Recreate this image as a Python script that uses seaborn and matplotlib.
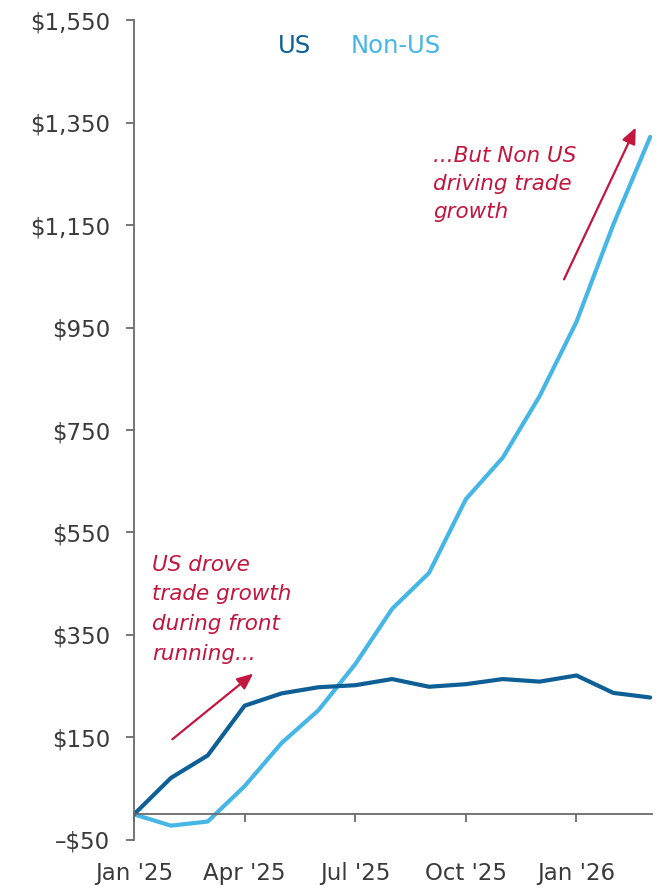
import numpy as np
import pandas as pd
import matplotlib
matplotlib.use("Agg")
import matplotlib.pyplot as plt
import seaborn as sns

# Monthly cumulative trade growth, Jan '25 to Mar '26
months = ["Jan '25", "Feb '25", "Mar '25", "Apr '25", "May '25", "Jun '25",
          "Jul '25", "Aug '25", "Sep '25", "Oct '25", "Nov '25", "Dec '25",
          "Jan '26", "Feb '26", "Mar '26"]
us_values = [0, 71, 115, 212, 236, 248, 252, 264, 249, 254, 264, 259, 271, 237, 228]
non_us_values = [0, -22, -14, 55, 139, 203, 293, 401, 471, 615, 696, 816, 961, 1151, 1322]

tick_months = ["Jan '25", "Apr '25", "Jul '25", "Oct '25", "Jan '26"]
y_ticks = [-50, 150, 350, 550, 750, 950, 1150, 1350, 1550]

US_COLOR = "#0E5F96"
NONUS_COLOR = "#46B6E6"
NOTE_COLOR = "#C2163E"

df = pd.DataFrame({
    "idx": list(range(len(months))) * 2,
    "value": us_values + non_us_values,
    "series": ["US"] * len(months) + ["Non-US"] * len(months),
})

sns.set_theme(style="white")
plt.rcParams["font.family"] = ["DejaVu Sans"]

fig = plt.figure(figsize=(6.64, 8.90), dpi=100)
ax = fig.add_axes([0.2018, 0.0562, 0.7802, 0.9213])

sns.lineplot(data=df, x="idx", y="value", hue="series",
             palette={"US": US_COLOR, "Non-US": NONUS_COLOR},
             hue_order=["Non-US", "US"], linewidth=3.0, legend=False, ax=ax)

ax.set_xlim(0, 14.05)
ax.set_ylim(-50, 1550)
ax.set_xlabel("")
ax.set_ylabel("")

# Axes styling: left spine full height, bottom spine at zero
for side in ["top", "right"]:
    ax.spines[side].set_visible(False)
ax.spines["left"].set_color("#6a6a6a")
ax.spines["left"].set_linewidth(1.3)
ax.spines["bottom"].set_position(("data", 0))
ax.spines["bottom"].set_color("#6a6a6a")
ax.spines["bottom"].set_linewidth(1.3)

ax.set_yticks(y_ticks)
ax.set_yticklabels([("–$" if v < 0 else "$") + f"{abs(v):,}" for v in y_ticks])
ax.set_xticks([months.index(m) for m in tick_months])
ax.set_xticklabels(tick_months)

ax.tick_params(axis="y", direction="out", length=6, width=1.3, color="#6a6a6a",
               pad=11, labelsize=16.5, labelcolor="#3a3a3a", left=True)
ax.tick_params(axis="x", direction="out", length=6, width=1.3, color="#6a6a6a",
               pad=28, labelsize=16.5, labelcolor="#3a3a3a", bottom=True)
ax.grid(False)

# Inline legend
ax.text(3.91, 1499, "US", color=US_COLOR, fontsize=17.5, va="center", ha="left")
ax.text(5.87, 1499, "Non-US", color=NONUS_COLOR, fontsize=17.5, va="center", ha="left")

# Annotations
ax.text(0.49, 507, "US drove\ntrade growth\nduring front\nrunning...",
        color=NOTE_COLOR, fontsize=15.5, style="italic", va="top", ha="left",
        linespacing=1.62)
ax.annotate("", xy=(3.29, 278), xytext=(0.98, 143),
            arrowprops=dict(arrowstyle="-|>,head_length=0.8,head_width=0.35",
                            color=NOTE_COLOR, lw=1.6))

ax.text(8.12, 1305, "...But Non US\ndriving trade\ngrowth",
        color=NOTE_COLOR, fontsize=15.5, style="italic", va="top", ha="left",
        linespacing=1.52)
ax.annotate("", xy=(13.64, 1345), xytext=(11.63, 1039),
            arrowprops=dict(arrowstyle="-|>,head_length=0.8,head_width=0.35",
                            color=NOTE_COLOR, lw=1.6))

fig.savefig("out.png", dpi=100)
